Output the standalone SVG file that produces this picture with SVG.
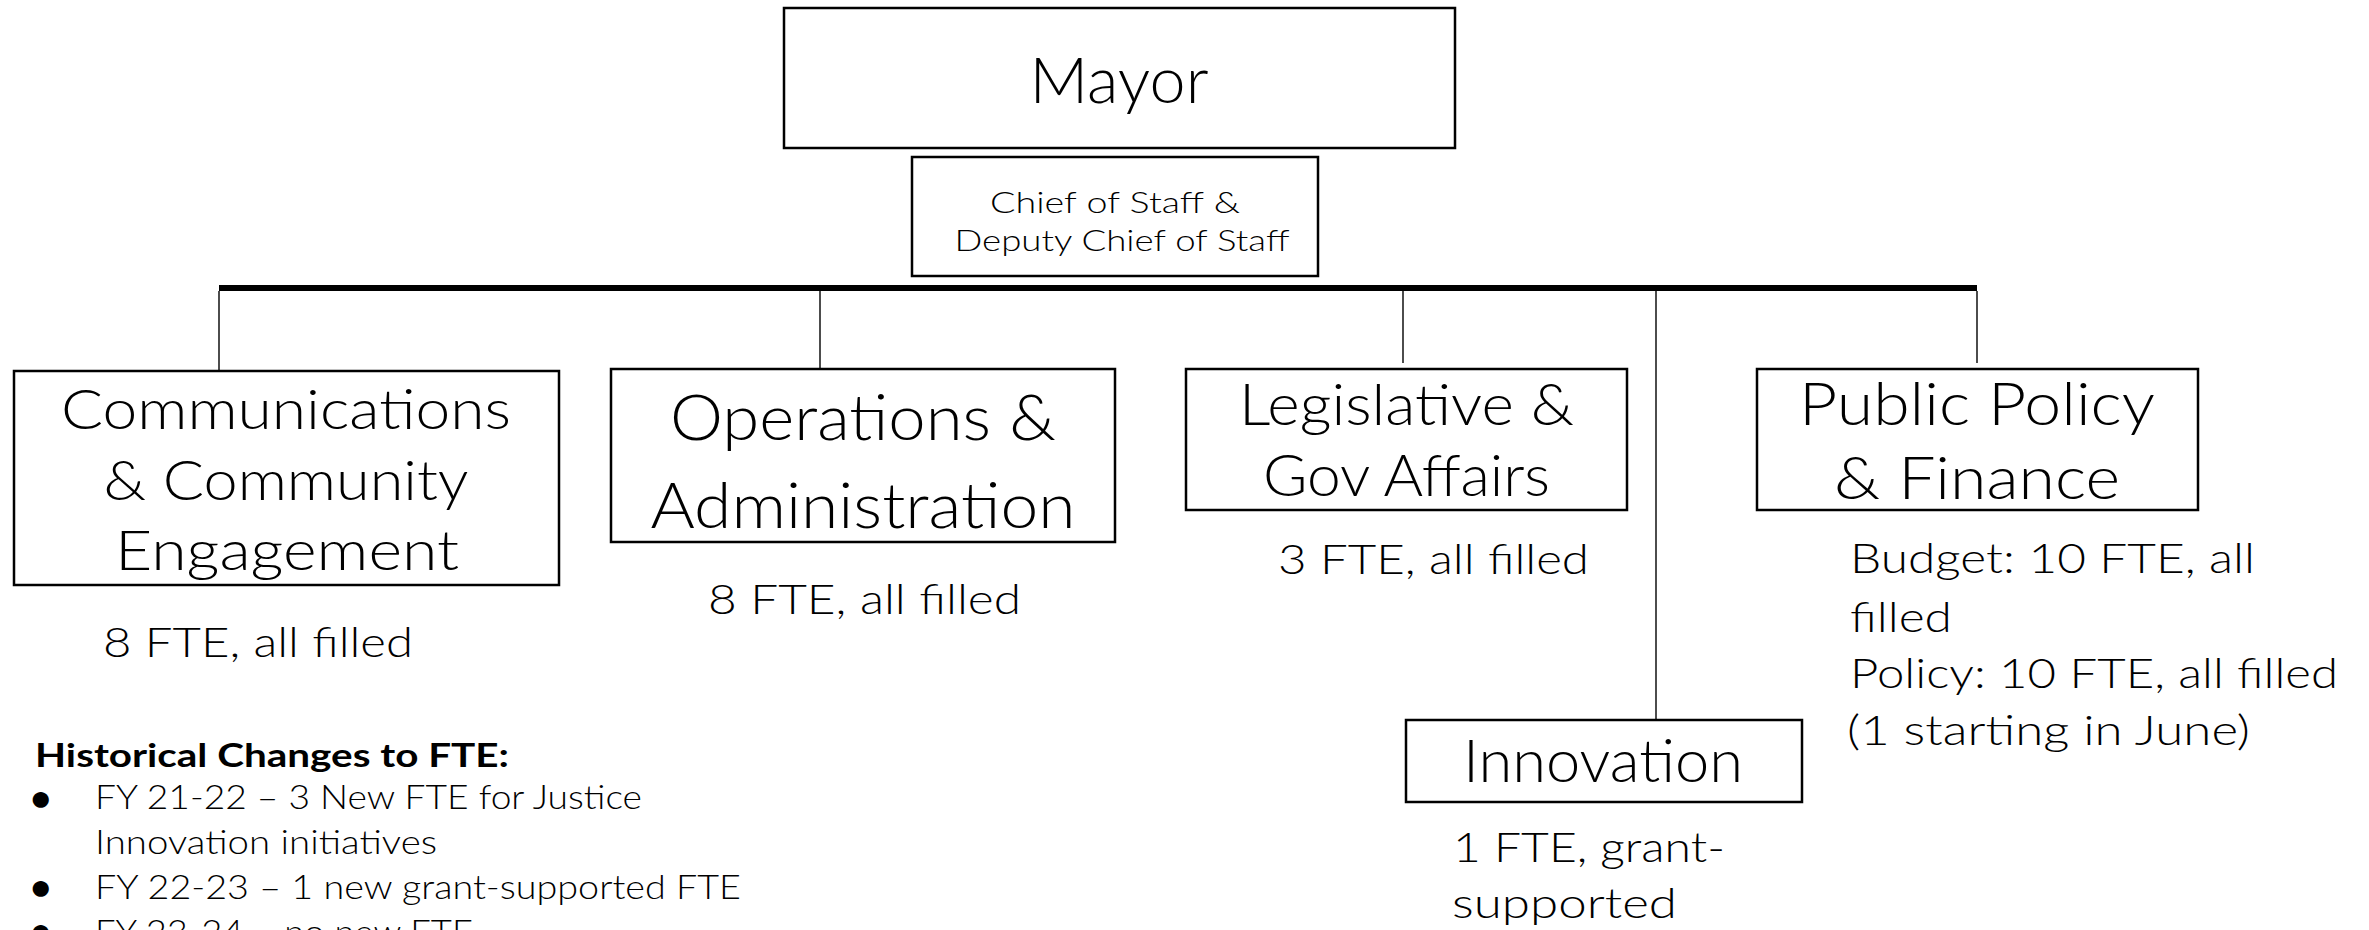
<svg xmlns="http://www.w3.org/2000/svg" width="2369" height="930" viewBox="0 0 2369 930">
<style>
  .box{fill:#fff;stroke:#000;stroke-width:2.5}
  .t{font-family:Lato,"Liberation Sans",sans-serif;font-weight:300;fill:#000}
  .c{text-anchor:middle}
  .conn{stroke:#000;stroke-width:1.4;fill:none}
  .bar{stroke:#000;stroke-width:6;fill:none}
  .lbl{font-size:41px}
  .hist{font-size:33.5px}
  .head{font-size:33px;font-weight:700}
  .bul{font-size:37px;font-weight:700}
</style>
<rect width="2369" height="930" fill="#fff"/>
<g id="connectors">
  <line class="bar" x1="219" y1="288" x2="1977" y2="288"/>
  <line class="conn" x1="219" y1="291" x2="219" y2="371"/>
  <line class="conn" x1="820" y1="291" x2="820" y2="369"/>
  <line class="conn" x1="1403" y1="291" x2="1403" y2="363"/>
  <line class="conn" x1="1656" y1="291" x2="1656" y2="720"/>
  <line class="conn" x1="1977" y1="291" x2="1977" y2="363"/>
</g>
<g id="mayor">
  <rect class="box" x="784" y="8" width="671" height="140"/>
  <text class="t c" x="1119" y="103" font-size="63" textLength="179" lengthAdjust="spacingAndGlyphs">Mayor</text>
</g>
<g id="chief-of-staff">
  <rect class="box" x="912" y="157" width="406" height="119"/>
  <text class="t c" x="1115" y="213" font-size="30" textLength="250" lengthAdjust="spacingAndGlyphs">Chief of Staff &amp;</text>
  <text class="t c" x="1122" y="251" font-size="30" textLength="335" lengthAdjust="spacingAndGlyphs">Deputy Chief of Staff</text>
</g>
<g id="communications">
  <rect class="box" x="14" y="371" width="545" height="214"/>
  <text class="t c" x="286" y="429" font-size="56" textLength="450" lengthAdjust="spacingAndGlyphs">Communications</text>
  <text class="t c" x="286" y="500" font-size="56" textLength="365" lengthAdjust="spacingAndGlyphs">&amp; Community</text>
  <text class="t c" x="287" y="570" font-size="56" textLength="344" lengthAdjust="spacingAndGlyphs">Engagement</text>
  <text class="t lbl" x="103" y="657" textLength="310" lengthAdjust="spacingAndGlyphs">8 FTE, all filled</text>
</g>
<g id="operations">
  <rect class="box" x="611" y="369" width="504" height="173"/>
  <text class="t c" x="863" y="440" font-size="64" textLength="386" lengthAdjust="spacingAndGlyphs">Operations &amp;</text>
  <text class="t c" x="863" y="528" font-size="64" textLength="425" lengthAdjust="spacingAndGlyphs">Administration</text>
  <text class="t lbl" x="708" y="614" textLength="313" lengthAdjust="spacingAndGlyphs">8 FTE, all filled</text>
</g>
<g id="legislative">
  <rect class="box" x="1186" y="369" width="441" height="141"/>
  <text class="t c" x="1406.5" y="425" font-size="57" textLength="335" lengthAdjust="spacingAndGlyphs">Legislative &amp;</text>
  <text class="t c" x="1406.5" y="496" font-size="57" textLength="287" lengthAdjust="spacingAndGlyphs">Gov Affairs</text>
  <text class="t lbl" x="1278" y="574" textLength="311" lengthAdjust="spacingAndGlyphs">3 FTE, all filled</text>
</g>
<g id="public-policy">
  <rect class="box" x="1757" y="369" width="441" height="141"/>
  <text class="t c" x="1977" y="425" font-size="59" textLength="356" lengthAdjust="spacingAndGlyphs">Public Policy</text>
  <text class="t c" x="1977" y="499" font-size="59" textLength="286" lengthAdjust="spacingAndGlyphs">&amp; Finance</text>
  <text class="t lbl" x="1850" y="573" textLength="405" lengthAdjust="spacingAndGlyphs">Budget: 10 FTE, all</text>
  <text class="t lbl" x="1850" y="632" textLength="102" lengthAdjust="spacingAndGlyphs">filled</text>
  <text class="t lbl" x="1850" y="688" textLength="488" lengthAdjust="spacingAndGlyphs">Policy: 10 FTE, all filled</text>
  <text class="t lbl" x="1847" y="745" textLength="403" lengthAdjust="spacingAndGlyphs">(1 starting in June)</text>
</g>
<g id="innovation">
  <rect class="box" x="1406" y="720" width="396" height="82"/>
  <text class="t c" x="1603" y="782" font-size="59" textLength="280" lengthAdjust="spacingAndGlyphs">Innovation</text>
  <text class="t lbl" x="1453" y="862" textLength="272" lengthAdjust="spacingAndGlyphs">1 FTE, grant-</text>
  <text class="t lbl" x="1452" y="918" textLength="225" lengthAdjust="spacingAndGlyphs">supported</text>
</g>
<g id="historical-changes">
  <text class="t head" x="35" y="767" textLength="474" lengthAdjust="spacingAndGlyphs">Historical Changes to FTE:</text>
  <text class="t bul" x="30" y="811">•</text>
  <text class="t hist" x="95" y="809" textLength="547" lengthAdjust="spacingAndGlyphs">FY 21-22 – 3 New FTE for Justice</text>
  <text class="t hist" x="95" y="854" textLength="342" lengthAdjust="spacingAndGlyphs">Innovation initiatives</text>
  <text class="t bul" x="30" y="899.5">•</text>
  <text class="t hist" x="95" y="899" textLength="646" lengthAdjust="spacingAndGlyphs">FY 22-23 – 1 new grant-supported FTE</text>
  <text class="t bul" x="30" y="944">•</text>
  <text class="t hist" x="95" y="944" textLength="378" lengthAdjust="spacingAndGlyphs">FY 23-24 – no new FTE</text>
</g>
</svg>
